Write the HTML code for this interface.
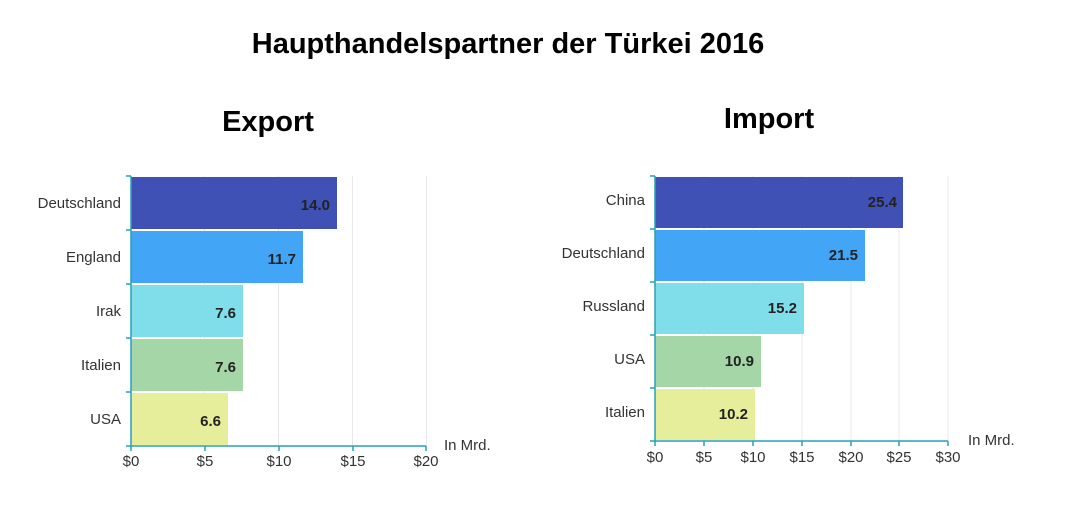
<!DOCTYPE html>
<html><head><meta charset="utf-8"><style>
body{margin:0;background:#fff;}
svg{display:block;font-family:"Liberation Sans",sans-serif;}
</style></head><body>
<svg width="1077" height="513" xmlns="http://www.w3.org/2000/svg">
<text x="508" y="53" text-anchor="middle" font-size="29" font-weight="bold" fill="#000">Haupthandelspartner der Türkei 2016</text>
<text x="268" y="131" text-anchor="middle" font-size="29" font-weight="bold">Export</text>
<text x="769" y="128" text-anchor="middle" font-size="29" font-weight="bold">Import</text>
<!-- Left chart -->
<g stroke="#e8e8e8" stroke-width="1">
<line x1="204.5" y1="176" x2="204.5" y2="446"/><line x1="278.5" y1="176" x2="278.5" y2="446"/><line x1="352.5" y1="176" x2="352.5" y2="446"/><line x1="426.5" y1="176" x2="426.5" y2="446"/>
</g>
<rect x="131" y="177" width="206" height="52" fill="#3f51b5"/>
<rect x="131" y="231" width="172" height="52" fill="#42a5f5"/>
<rect x="131" y="285" width="112" height="52" fill="#80deea"/>
<rect x="131" y="339" width="112" height="52" fill="#a5d6a7"/>
<rect x="131" y="393" width="97" height="52" fill="#e6ee9c"/>
<g stroke="#26a0b8" stroke-width="1.5">
<line x1="131" y1="176" x2="131" y2="446"/><line x1="131" y1="446" x2="426" y2="446"/>
<line x1="126" y1="176" x2="131" y2="176"/><line x1="126" y1="230" x2="131" y2="230"/><line x1="126" y1="284" x2="131" y2="284"/><line x1="126" y1="338" x2="131" y2="338"/><line x1="126" y1="392" x2="131" y2="392"/><line x1="126" y1="446" x2="131" y2="446"/>
<line x1="131" y1="446" x2="131" y2="451"/><line x1="205" y1="446" x2="205" y2="451"/><line x1="279" y1="446" x2="279" y2="451"/><line x1="353" y1="446" x2="353" y2="451"/><line x1="426" y1="446" x2="426" y2="451"/>
</g>
<g font-size="15" fill="#333" text-anchor="end">
<text x="121" y="208">Deutschland</text><text x="121" y="262">England</text><text x="121" y="316">Irak</text><text x="121" y="370">Italien</text><text x="121" y="424">USA</text>
</g>
<g font-size="15" font-weight="bold" fill="#222" text-anchor="end">
<text x="330" y="210">14.0</text><text x="296" y="264">11.7</text><text x="236" y="318">7.6</text><text x="236" y="372">7.6</text><text x="221" y="426">6.6</text>
</g>
<g font-size="15" fill="#333" text-anchor="middle">
<text x="131" y="466">$0</text><text x="205" y="466">$5</text><text x="279" y="466">$10</text><text x="353" y="466">$15</text><text x="426" y="466">$20</text>
</g>
<text x="444" y="450" font-size="15" fill="#333">In Mrd.</text>
<!-- Right chart -->
<g stroke="#e8e8e8" stroke-width="1">
<line x1="704" y1="176" x2="704" y2="441"/><line x1="753" y1="176" x2="753" y2="441"/><line x1="802" y1="176" x2="802" y2="441"/><line x1="851" y1="176" x2="851" y2="441"/><line x1="899" y1="176" x2="899" y2="441"/><line x1="948" y1="176" x2="948" y2="441"/>
</g>
<rect x="655" y="177" width="248" height="51" fill="#3f51b5"/>
<rect x="655" y="230" width="210" height="51" fill="#42a5f5"/>
<rect x="655" y="283" width="149" height="51" fill="#80deea"/>
<rect x="655" y="336" width="106" height="51" fill="#a5d6a7"/>
<rect x="655" y="389" width="100" height="51" fill="#e6ee9c"/>
<g stroke="#26a0b8" stroke-width="1.5">
<line x1="655" y1="176" x2="655" y2="441"/><line x1="655" y1="441" x2="948" y2="441"/>
<line x1="650" y1="176" x2="655" y2="176"/><line x1="650" y1="229" x2="655" y2="229"/><line x1="650" y1="282" x2="655" y2="282"/><line x1="650" y1="335" x2="655" y2="335"/><line x1="650" y1="388" x2="655" y2="388"/><line x1="650" y1="441" x2="655" y2="441"/>
<line x1="655" y1="441" x2="655" y2="446"/><line x1="704" y1="441" x2="704" y2="446"/><line x1="753" y1="441" x2="753" y2="446"/><line x1="802" y1="441" x2="802" y2="446"/><line x1="851" y1="441" x2="851" y2="446"/><line x1="899" y1="441" x2="899" y2="446"/><line x1="948" y1="441" x2="948" y2="446"/>
</g>
<g font-size="15" fill="#333" text-anchor="end">
<text x="645" y="205">China</text><text x="645" y="258">Deutschland</text><text x="645" y="311">Russland</text><text x="645" y="364">USA</text><text x="645" y="417">Italien</text>
</g>
<g font-size="15" font-weight="bold" fill="#222" text-anchor="end">
<text x="897" y="207">25.4</text><text x="858" y="260">21.5</text><text x="797" y="313">15.2</text><text x="754" y="366">10.9</text><text x="748" y="419">10.2</text>
</g>
<g font-size="15" fill="#333" text-anchor="middle">
<text x="655" y="462">$0</text><text x="704" y="462">$5</text><text x="753" y="462">$10</text><text x="802" y="462">$15</text><text x="851" y="462">$20</text><text x="899" y="462">$25</text><text x="948" y="462">$30</text>
</g>
<text x="968" y="445" font-size="15" fill="#333">In Mrd.</text>
</svg>
</body></html>
